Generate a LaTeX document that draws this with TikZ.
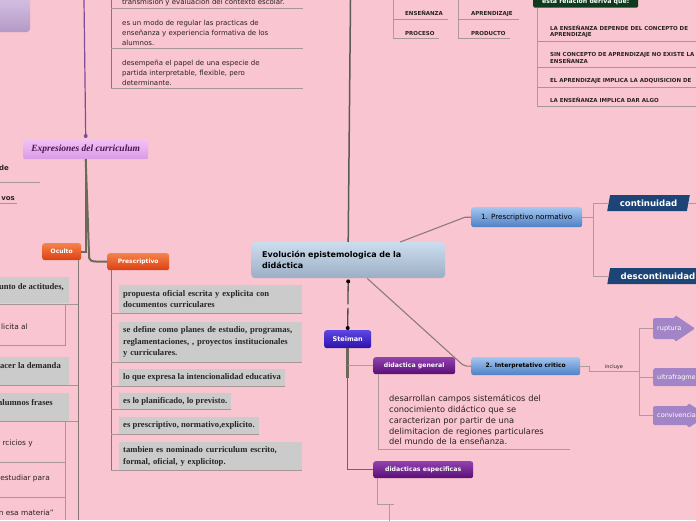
\documentclass[tikz,border=0pt]{standalone}
\usepackage{fontspec}
\setmainfont{DejaVu Sans}
\newfontfamily\serifb{Liberation Serif}
\usetikzlibrary{calc,shapes.geometric}
\newcommand\myfs[2]{\fontsize{#1}{#2}\selectfont}
\definecolor{bg}{HTML}{F9C5D0}
\definecolor{trunkc}{HTML}{6C695B}
\definecolor{linec}{HTML}{AF9A98}
\definecolor{ulinec}{HTML}{A89595}
\definecolor{dlinec}{HTML}{857573}
\definecolor{mlinec}{HTML}{8C7C78}
\definecolor{boxgrey}{HTML}{CBCBCB}
\definecolor{navyc}{HTML}{1C4476}
\definecolor{lavc}{HTML}{A385C7}
\definecolor{greenc}{HTML}{0E3B1E}
\definecolor{purpc}{HTML}{7E4C9A}
\definecolor{txtc}{HTML}{2A2222}
\definecolor{exptxt}{HTML}{4B1650}
\definecolor{orangeT}{HTML}{F5834C}
\definecolor{orangeB}{HTML}{DA3F12}
\definecolor{blueT}{HTML}{A4C6F0}
\definecolor{blueB}{HTML}{4E80C4}
\definecolor{purpT}{HTML}{9142B0}
\definecolor{purpB}{HTML}{5A0E74}
\definecolor{steiT}{HTML}{5E46E4}
\definecolor{steiB}{HTML}{2C12AA}
\definecolor{cenT}{HTML}{CCDDEE}
\definecolor{cenB}{HTML}{9CAEC4}
\definecolor{expT}{HTML}{F2C2F6}
\definecolor{expB}{HTML}{D99BE4}
\definecolor{tlT}{HTML}{DAC6E6}
\definecolor{tlB}{HTML}{B39AC6}
\pgfdeclarelayer{bgl}
\pgfdeclarelayer{bgpaper}
\pgfsetlayers{bgpaper,bgl,main}
\begin{document}
\begin{tikzpicture}[x=1pt,y=-1pt,
  nw/.style={anchor=north west,inner sep=0pt},
  orangenode/.style={nw,rounded corners=2.5pt,top color=orangeT,bottom color=orangeB,text=white,font=\bfseries\myfs{6}{7}},
  bluenode/.style={nw,rounded corners=2.5pt,top color=blueT,bottom color=blueB,text=black},
  purplenode/.style={nw,rounded corners=2.5pt,top color=purpT,bottom color=purpB,text=white,font=\bfseries\myfs{6.2}{7}},
  steinode/.style={nw,rounded corners=2.5pt,top color=steiT,bottom color=steiB,text=white,font=\bfseries\myfs{6.5}{7}},
  cennode/.style={nw,rounded corners=4pt,top color=cenT,bottom color=cenB,text=black,font=\bfseries\myfs{8}{11}},
  expnode/.style={nw,rounded corners=2pt,top color=expT,bottom color=expB,text=exptxt,font=\serifb\bfseries\itshape\myfs{9.5}{10}},
  pbox/.style={nw,fill=boxgrey,inner xsep=4pt,align=left,text=black!85,font=\serifb\bfseries\myfs{8.6}{11.5}},
  lavnode/.style={nw,fill=lavc,rounded corners=2pt,text=white,font=\myfs{6.5}{8},align=left,text width=42pt,inner xsep=4pt},
  lavtxt/.style={anchor=west,inner sep=0pt,text=white,font=\myfs{6.5}{8}},
  arrowfill/.style={fill=lavc,rounded corners=1.5pt},
  para/.style={trapezium,trapezium left angle=72,trapezium right angle=108,trapezium stretches=true,fill=navyc,text=white,inner sep=0pt,minimum height=16pt,font=\bfseries\myfs{8.6}{10}},
  small/.style={inner sep=0pt,text=txtc,font=\bfseries\myfs{5.5}{5.8}},
  topt/.style={inner sep=0pt,text=txtc,font=\myfs{7}{10}},
  sertxt/.style={anchor=base east,inner sep=0pt,text=black!85,font=\serifb\bfseries\myfs{8.6}{10}},
  santxt/.style={anchor=base east,inner sep=0pt,text=txtc,font=\myfs{7.4}{8}},
  trunk/.style={draw=trunkc,line width=2pt},
  lline/.style={draw=linec,line width=1pt},
  uline/.style={draw=ulinec,line width=0.9pt},
  dline/.style={draw=dlinec,line width=1pt},
  mline/.style={draw=mlinec,line width=1.1pt}]
\useasboundingbox (0,0) rectangle (696,520);
\clip (0,0) rectangle (696,520);
\begin{pgfonlayer}{bgpaper}
\fill[bg] (0,0) rectangle (696,520);
\end{pgfonlayer}

% top-left partial box
\node[nw,minimum width=60pt,minimum height=40pt,rounded corners=4pt,top color=tlT,bottom color=tlB] (tl) at (-30,-8) {};

% Expresiones del curriculum
\node[expnode,minimum width=125pt,minimum height=20pt] (exp) at (23,139) {Expresiones del curriculum};
\coordinate (ptop) at (84,0);
\draw[purpc,line width=1.2pt] (ptop) -- ([yshift=3pt]exp.north);
\fill[purpc] ([yshift=3pt]exp.north) circle (2pt);

\node[orangenode,minimum width=39pt,minimum height=17pt] (ocu) at (42,243) {Oculto};
\node[orangenode,minimum width=62pt,minimum height=17pt] (pres) at (107,253) {Prescriptivo};
\draw[trunk] (exp.south) |- (ocu.east);
\draw[trunk] (exp.south) -- ($(pres.west)+(-18,-8)$) .. controls ($(pres.west)+(-18,0)$) .. (pres.west);

% left cut items
\node[anchor=base east,inner sep=0pt,text=txtc,font=\bfseries\myfs{7}{8}] (lde) at (9,170) {de};
\draw[uline] (0,182) -- (40,182);
\node[anchor=base east,inner sep=0pt,text=txtc,font=\bfseries\myfs{7}{8}] (lvos) at (15,200.5) {vos};
\draw[uline] (0,203) -- (17,203);

% top centre column
\coordinate (tctop) at (111,0);
\draw[dline] (tctop) -- (111,88);
\foreach \yy in {8,48,88} \draw[uline] (111,\yy) -- (303,\yy);
\node[topt,anchor=base west] (t1) at (122,4.5) {transmision y evaluacion del contexto escolar.};
\node[topt,nw,align=left] (t2) at (122,19.5) {es un modo de regular las practicas de\\enseñanza y experiencia formativa de los\\alumnos.};
\node[topt,nw,align=left] (t3) at (122,59.5) {desempeña el papel de una especie de\\partida interpretable, flexible, pero\\determinante.};

% ENSEÑANZA / APRENDIZAJE
\coordinate (ea) at (393,0);
\draw[lline] (ea) -- (393,38);
\draw[uline] (393,19) -- (448,19);
\draw[uline] (393,38) -- (439,38);
\node[small,anchor=base west] (en) at (405,15) {ENSEÑANZA};
\node[small,anchor=base west] (pr) at (405,35) {PROCESO};
\coordinate (ap) at (458,0);
\draw[lline] (ap) -- (458,38);
\draw[uline] (458,19) -- (519,19);
\draw[uline] (458,38) -- (510,38);
\node[small,anchor=base west] (apr) at (471,15) {APRENDIZAJE};
\node[small,anchor=base west] (prd) at (471,35) {PRODUCTO};

% esta relacion deriva que
\node[nw,minimum width=105pt,minimum height=12pt,fill=greenc,rounded corners=2pt,text=white,font=\bfseries\myfs{6.2}{7}] (rel) at (533,-4.5) {esta relacion deriva que:};
\draw[lline] ([xshift=4pt]rel.south west) -- ++(0,98.5);
\foreach \yy in {41,67,87,106} \draw[uline] (537,\yy) -- (696,\yy);
\node[small,anchor=west,align=left] (r1) at (550,31.5) {LA ENSEÑANZA DEPENDE DEL CONCEPTO DE\\APRENDIZAJE};
\node[small,anchor=west,align=left] (r2) at (550,58) {SIN CONCEPTO DE APRENDIZAJE NO EXISTE LA\\ENSEÑANZA};
\node[small,anchor=base west] (r3) at (550,82) {EL APRENDIZAJE IMPLICA LA ADQUISICION DE};
\node[small,anchor=base west] (r4) at (550,102) {LA ENSEÑANZA IMPLICA DAR ALGO};

% centre node
\coordinate (ctop) at (350.5,0);
\node[cennode,minimum width=194pt,minimum height=36pt,text width=172pt,inner xsep=11pt,align=left] (cen) at (251,242) {Evolución epistemologica de la\\didáctica};
\draw[draw=black!65,line width=1.5pt] (ctop) -- (cen.north);

% Steiman
\node[steinode,minimum width=47pt,minimum height=18pt] (stm) at (324,330) {Steiman};
\draw[draw=black!70,line width=1.3pt,dash pattern=on 23pt off 3.5pt] ([yshift=-3pt]cen.south) -- ([yshift=2pt]stm.north);
\fill ([yshift=-3pt]cen.south) circle (2pt);
\fill ([yshift=2pt]stm.north) circle (2pt);

\node[purplenode,minimum width=82pt,minimum height=17pt] (dg) at (373,357) {didactica general};
\node[purplenode,minimum width=100pt,minimum height=17pt] (de) at (373,461) {didacticas especificas};
\draw[draw=trunkc,line width=1.5pt] (stm.south) |- (de.west);
\draw[draw=trunkc,line width=3pt] (stm.south) -- ++(0,30);
\draw[lline] (stm.south |- dg.west) -- (dg.west);

\node[nw,text width=185pt,align=left,font=\myfs{8.3}{10.75},text=txtc] (dgt) at (389,395) {desarrollan campos sistemáticos del\\conocimiento didáctico que se\\caracterizan por partir de una\\delimitacion de regiones particulares\\del mundo de la enseñanza.};
\draw[lline] ([xshift=5pt]dg.south west) |- ++(192,75);
\draw[lline] ([xshift=4pt]de.south west) |- ++(17,26);
\draw[lline] ([xshift=16pt]de.south west) ++(0,26) -- ++(0,30);

% 1. and 2.
\node[bluenode,minimum width=111pt,minimum height=20pt,font=\myfs{7.2}{8}] (pn) at (471,207) {1. Prescriptivo normativo};
\node[bluenode,minimum width=109pt,minimum height=18pt,font=\bfseries\myfs{6}{8}] (ic) at (471,357) {2. Interpretativo critico};
\draw[mline] ([xshift=52pt]cen.north) -- ([xshift=-6pt]pn.west) -- (pn.west);
\draw[mline] ([xshift=19pt]cen.south) -- ($(ic.west)+(-9,-2)$) .. controls ($(ic.west)+(-5,0)$) .. (ic.west);

% continuidad
\node[para,minimum width=83pt] (cont) at (648.5,203) {continuidad};
\node[para,minimum width=102pt] (desc) at (658,276) {descontinuidad};
\draw[lline] (pn.east) -- ++(11,0) coordinate (pnb);
\draw[lline] (cont.west) -| (pnb) |- (desc.west);
\draw[lline] (cont.east) -- ++(10,0);

% incluye branch
\draw[lline] (ic.east) -- ++(9,0) -- ++(0,5) -- ++(50,0) coordinate (icb);
\node[inner sep=0pt,anchor=base,text=txtc,font=\myfs{5}{6}] (inc) at (614,368) {incluye};
\node[lavtxt] (rup) at (657,328.5) {ruptura};
\node[lavtxt] (conv) at (657,415.5) {convivencia};
\begin{pgfonlayer}{bgl}
\fill[arrowfill] ([xshift=-4pt,yshift=10.5pt]rup.west) -- ++(22,0) -- ++(0,-3) -- ++(20,13.5) -- ++(-20,13.5) -- ++(0,-3) -- ++(-22,0) -- cycle;
\fill[arrowfill] ([xshift=-4pt,yshift=9.5pt]conv.west) -- ++(35,0) -- ++(0,-3) -- ++(20,12.5) -- ++(-20,12.5) -- ++(0,-3) -- ++(-35,0) -- cycle;
\end{pgfonlayer}
\node[lavnode,minimum width=50pt,minimum height=18pt] (ult) at (653,368) {ultrafragme};
\draw[lline] ([xshift=-4pt]rup.west) -| (icb) |- ([xshift=-4pt]conv.west);
\draw[lline] (icb |- ult.west) -- (ult.west);

% Prescriptivo children
\coordinate (ppl) at ([xshift=4pt]pres.south west);
\node[pbox,minimum width=183pt,minimum height=28pt,text width=175pt] (p1) at (119,285) {propuesta oficial escrita y explicita con\\documentos curriculares};
\node[pbox,minimum width=183pt,minimum height=40pt,text width=175pt] (p2) at (119,322) {se define como planes de estudio, programas,\\reglamentaciones, , proyectos institucionales\\y curriculares.};
\node[pbox,minimum height=17pt] (p3) at (119,369) {lo que expresa la intencionalidad educativa};
\node[pbox,minimum height=16pt] (p4) at (119,393) {es lo planificado, lo previsto.};
\node[pbox,minimum height=17pt] (p5) at (119,417) {es prescriptivo, normativo,explicito.};
\node[pbox,minimum width=183pt,minimum height=28pt,text width=175pt] (p6) at (119,442) {tambien es nominado curriculum escrito,\\formal, oficial, y explicitop.};
\draw[dline] (ppl) -- (ppl |- p6.south);
\foreach \n in {p1,p2,p3,p4,p5,p6} \draw[uline] (\n.south east) -- (\n.south east -| ppl);

% Oculto children
\coordinate (ocl) at ([xshift=-3pt]ocu.south east);
\draw[dline] (ocl) -- (ocl |- 0,520);
\node[nw,fill=boxgrey,minimum width=80pt,minimum height=26pt] (o1) at (-11,277) {};
\node[nw,fill=boxgrey,minimum width=80pt,minimum height=28pt] (o3) at (-11,357) {};
\node[nw,fill=boxgrey,minimum width=80pt,minimum height=28pt] (o4) at (-11,393) {};
\draw[uline] (0,304) -- (ocl |- 0,304);
\draw[uline] (65,304) -- (65,345) -- (0,345);
\draw[uline] (0,385) -- (ocl |- 0,385);
\draw[uline] (0,421) -- (ocl |- 0,421);
\draw[uline] (65,421) -- (65,520);
\draw[uline] (0,462) -- (65,462);
\draw[uline] (0,497) -- (65,497);
\node[sertxt] (o1t) at (64,289.5) {unto de actitudes,};
\node[santxt] (o2t) at (28,329.5) {licita al};
\node[sertxt] (o3t) at (61,368.5) {acer la demanda};
\node[sertxt] (o4t) at (53,405.5) {alumnos frases};
\node[santxt] (o5t) at (33,445.5) {rcicios y};
\node[santxt] (o6t) at (50,480.5) {estudiar para};
\node[santxt] (o7t) at (54,515.5) {n esa materia\textquotedblright};
\end{tikzpicture}
\end{document}
